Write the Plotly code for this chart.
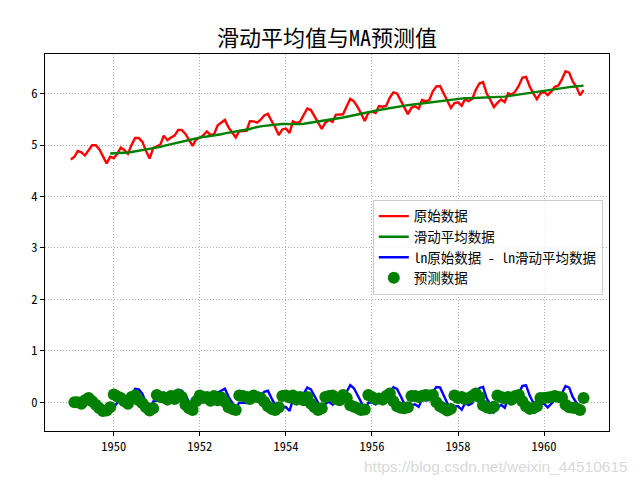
import pandas as pd
import plotly.graph_objects as go

# monthly dates 1949-01 .. 1960-12
months = pd.date_range("1949-01-01", periods=144, freq="MS")

# ln(original data)
log_raw = [
    4.718, 4.771, 4.883, 4.860, 4.796, 4.905, 4.997, 4.997, 4.913, 4.779, 4.644, 4.771,
    4.745, 4.836, 4.949, 4.905, 4.828, 5.004, 5.136, 5.136, 5.063, 4.890, 4.736, 4.942,
    4.977, 5.011, 5.182, 5.094, 5.147, 5.182, 5.293, 5.293, 5.215, 5.088, 4.984, 5.112,
    5.142, 5.193, 5.263, 5.198, 5.209, 5.384, 5.438, 5.489, 5.342, 5.252, 5.147, 5.268,
    5.278, 5.278, 5.464, 5.460, 5.434, 5.493, 5.576, 5.606, 5.468, 5.352, 5.193, 5.303,
    5.318, 5.236, 5.460, 5.425, 5.455, 5.576, 5.710, 5.680, 5.557, 5.434, 5.313, 5.434,
    5.489, 5.451, 5.587, 5.595, 5.598, 5.753, 5.897, 5.849, 5.743, 5.613, 5.468, 5.628,
    5.649, 5.624, 5.759, 5.746, 5.762, 5.924, 6.023, 6.004, 5.872, 5.724, 5.602, 5.724,
    5.753, 5.707, 5.875, 5.852, 5.872, 6.045, 6.142, 6.146, 6.001, 5.849, 5.720, 5.817,
    5.829, 5.762, 5.892, 5.852, 5.894, 6.075, 6.196, 6.225, 6.001, 5.883, 5.737, 5.820,
    5.886, 5.835, 6.006, 5.981, 6.040, 6.157, 6.306, 6.326, 6.138, 6.009, 5.892, 6.004,
    6.033, 5.969, 6.038, 6.133, 6.157, 6.282, 6.433, 6.407, 6.230, 6.133, 5.966, 6.068,
]

# 12-month moving average (from 1949-12)
moving_avg = [
    4.836, 4.838, 4.844, 4.849, 4.853, 4.856, 4.864, 4.876, 4.887, 4.900, 4.909, 4.917,
    4.931, 4.950, 4.965, 4.984, 5.000, 5.026, 5.041, 5.054, 5.067, 5.080, 5.097, 5.117,
    5.131, 5.145, 5.160, 5.167, 5.176, 5.181, 5.198, 5.210, 5.226, 5.237, 5.251, 5.264,
    5.277, 5.289, 5.296, 5.312, 5.334, 5.353, 5.362, 5.373, 5.383, 5.394, 5.402, 5.406,
    5.409, 5.412, 5.409, 5.408, 5.405, 5.407, 5.414, 5.425, 5.431, 5.439, 5.446, 5.456,
    5.467, 5.481, 5.499, 5.509, 5.523, 5.535, 5.550, 5.566, 5.580, 5.595, 5.610, 5.623,
    5.639, 5.653, 5.667, 5.681, 5.694, 5.708, 5.722, 5.732, 5.745, 5.756, 5.765, 5.776,
    5.784, 5.793, 5.800, 5.810, 5.818, 5.828, 5.838, 5.848, 5.859, 5.870, 5.881, 5.891,
    5.898, 5.905, 5.909, 5.911, 5.911, 5.913, 5.915, 5.920, 5.926, 5.926, 5.929, 5.930,
    5.931, 5.935, 5.941, 5.951, 5.962, 5.974, 5.981, 5.990, 5.998, 6.010, 6.020, 6.033,
    6.048, 6.061, 6.072, 6.074, 6.087, 6.097, 6.107, 6.118, 6.125, 6.132, 6.143, 6.149,
    6.154,
]

# ln original - ln moving average (from 1949-12)
log_diff = [
    -0.065, -0.093, -0.008, 0.099, 0.052, -0.028, 0.140, 0.260, 0.249, 0.163, -0.019, -0.180,
    0.011, 0.027, 0.046, 0.198, 0.094, 0.121, 0.141, 0.239, 0.226, 0.135, -0.009, -0.134,
    -0.019, -0.003, 0.033, 0.096, 0.023, 0.029, 0.187, 0.228, 0.263, 0.105, 0.002, -0.117,
    -0.009, -0.010, -0.018, 0.151, 0.125, 0.081, 0.131, 0.203, 0.223, 0.074, -0.050, -0.213,
    -0.105, -0.094, -0.172, 0.051, 0.020, 0.048, 0.162, 0.285, 0.249, 0.118, -0.012, -0.142,
    -0.033, 0.008, -0.048, 0.078, 0.071, 0.063, 0.202, 0.332, 0.270, 0.148, 0.003, -0.155,
    -0.012, -0.004, -0.043, 0.078, 0.052, 0.054, 0.202, 0.291, 0.259, 0.116, -0.042, -0.174,
    -0.061, -0.040, -0.093, 0.065, 0.034, 0.044, 0.207, 0.294, 0.287, 0.131, -0.031, -0.170,
    -0.081, -0.076, -0.147, -0.019, -0.059, -0.018, 0.160, 0.277, 0.298, 0.075, -0.046, -0.194,
    -0.110, -0.049, -0.107, 0.055, 0.020, 0.066, 0.176, 0.316, 0.328, 0.128, -0.011, -0.141,
    -0.044, -0.028, -0.103, -0.037, 0.046, 0.060, 0.175, 0.315, 0.282, 0.098, -0.009, -0.183,
    -0.086,
]

# predicted values, from 1949-02
predicted = [
    0.00, 0.00, -0.03, 0.04, 0.08, 0.02, -0.05, -0.12, -0.17, -0.16, -0.10,
    0.15, 0.11, 0.08, 0.02, -0.03, 0.10, 0.13, 0.04, -0.02, -0.10, -0.16, -0.12,
    0.14, 0.10, 0.09, 0.05, 0.12, 0.06, 0.15, 0.10, -0.05, -0.12, -0.15, 0.02,
    0.13, 0.08, 0.10, 0.03, 0.12, 0.04, 0.09, 0.01, -0.10, -0.13, -0.15, 0.13,
    0.12, 0.10, 0.06, 0.13, 0.10, 0.08, 0.01, -0.08, -0.13, -0.15, -0.10, 0.12,
    0.13, 0.09, 0.13, 0.05, 0.10, 0.04, 0.10, -0.03, -0.10, -0.15, -0.12, 0.10,
    0.12, 0.13, 0.06, 0.04, 0.14, 0.08, -0.06, -0.09, -0.12, -0.15, -0.14, 0.14,
    0.10, 0.06, 0.07, 0.05, 0.12, 0.17, 0.02, -0.08, -0.11, -0.12, -0.10, 0.12,
    0.12, 0.10, 0.12, 0.14, 0.13, 0.14, 0.00, -0.08, -0.12, -0.16, -0.13, 0.13,
    0.08, 0.10, 0.06, 0.08, 0.12, 0.17, 0.10, -0.06, -0.10, -0.12, -0.09, 0.13,
    0.10, 0.07, 0.10, 0.05, 0.12, 0.14, 0.02, -0.08, -0.13, -0.12, -0.08, 0.08,
    0.08, 0.09, 0.10, 0.12, 0.10, 0.09, -0.05, -0.10, -0.11, -0.12, -0.15, 0.08,
]

tick_years = ["1950", "1952", "1954", "1956", "1958", "1960"]

FONT = "Noto Sans Mono CJK SC, Noto Sans CJK SC, sans-serif"

fig = go.Figure()
fig.add_trace(go.Scatter(x=months, y=log_raw, mode="lines", name="原始数据",
                         line=dict(color="red", width=2.4)))
fig.add_trace(go.Scatter(x=months[11:], y=moving_avg, mode="lines", name="滑动平均数据",
                         line=dict(color="green", width=2.4)))
fig.add_trace(go.Scatter(x=months[11:], y=log_diff, mode="lines", name="ln原始数据 - ln滑动平均数据",
                         line=dict(color="blue", width=2.4)))
fig.add_trace(go.Scatter(x=months[1:], y=predicted, mode="markers", name="预测数据",
                         marker=dict(color="green", size=12, line=dict(width=0))))

axis_common = dict(showline=True, linecolor="black", linewidth=1, mirror=True,
                   ticks="outside", ticklen=4, tickcolor="black",
                   showgrid=True, gridcolor="#b0b0b0", griddash="1px,2px", gridwidth=1,
                   zeroline=False, automargin=False,
                   tickfont=dict(family=FONT, size=12.5, color="black"))

fig.update_layout(
    width=640, height=480,
    paper_bgcolor="white", plot_bgcolor="white",
    margin=dict(l=45, r=31, t=54, b=49),
    title=dict(text="滑动平均值与MA预测值", x=0.511, xanchor="center",
               y=1 - 38 / 480, yanchor="middle",
               font=dict(family=FONT, size=22, color="black")),
    xaxis=dict(range=["1948-05-27", "1961-07-05"],
               tickvals=[y + "-01-01" for y in tick_years], ticktext=tick_years,
               **axis_common),
    yaxis=dict(range=[-0.56, 6.77], tickvals=[0, 1, 2, 3, 4, 5, 6],
               **axis_common),
    legend=dict(x=0.989, xanchor="right", y=0.613, yanchor="top",
                bgcolor="rgba(255,255,255,0.8)", bordercolor="#cccccc", borderwidth=1,
                font=dict(family=FONT, size=13.5, color="black"),
                tracegroupgap=0, itemwidth=30),
    showlegend=True,
    annotations=[dict(text="https://blog.csdn.net/weixin_44510615", xref="paper", yref="paper",
                      x=1.037, xanchor="right", y=-0.093, yanchor="middle", showarrow=False,
                      font=dict(family="Arial, sans-serif", size=15.5, color="#d9d9d9"))],
)

fig.write_html("out.html", config={"displayModeBar": False},
               post_script="document.body.style.margin='0';")
